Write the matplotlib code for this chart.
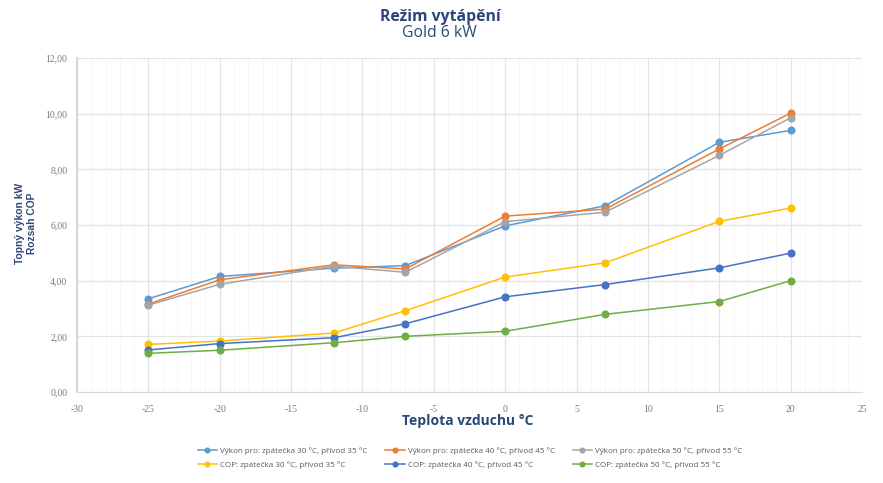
import matplotlib
matplotlib.use("Agg")
import matplotlib.pyplot as plt
from matplotlib.ticker import FuncFormatter, MultipleLocator

temps = [-25, -20, -12, -7, 0, 7, 15, 20]
vykon_30_35 = [3.35, 4.15, 4.45, 4.54, 5.97, 6.69, 8.97, 9.40]
vykon_40_45 = [3.16, 4.03, 4.57, 4.42, 6.32, 6.57, 8.73, 10.02]
vykon_50_55 = [3.12, 3.87, 4.52, 4.30, 6.12, 6.46, 8.50, 9.85]
cop_30_35 = [1.71, 1.83, 2.12, 2.92, 4.13, 4.64, 6.13, 6.61]
cop_40_45 = [1.51, 1.74, 1.95, 2.45, 3.42, 3.86, 4.46, 4.99]
cop_50_55 = [1.39, 1.50, 1.77, 2.00, 2.18, 2.79, 3.25, 4.00]

labels = [
    "Výkon pro: zpátečka 30 °C, přívod 35 °C",
    "Výkon pro: zpátečka 40 °C, přívod 45 °C",
    "Výkon pro: zpátečka 50 °C, přívod 55 °C",
    "COP: zpátečka 30 °C, přívod 35 °C",
    "COP: zpátečka 40 °C, přívod 45 °C",
    "COP: zpátečka 50 °C, přívod 55 °C",
]
series = [vykon_30_35, vykon_40_45, vykon_50_55, cop_30_35, cop_40_45, cop_50_55]
colors = ["#5B9BD5", "#ED7D31", "#A5A5A5", "#FFC000", "#4472C4", "#70AD47"]

title_color = "#2B4778"
plt.rcParams['font.family'] = ['Open Sans', 'DejaVu Sans']

fig = plt.figure(figsize=(8.83, 4.83), dpi=100)
W, H = 883, 483
left, right, top, bottom = 77, 862, 58, 392
ax = fig.add_axes([left / W, 1 - bottom / H, (right - left) / W, (bottom - top) / H])

handles = []
for s, c, lab in zip(series, colors, labels):
    h, = ax.plot(temps, s, color=c, lw=1.1, marker="o", ms=4.8, label=lab, zorder=3)
    handles.append(h)

ax.set_xlim(-30, 25)
ax.set_ylim(0, 12)
ax.xaxis.set_major_locator(MultipleLocator(5))
ax.xaxis.set_minor_locator(MultipleLocator(1))
ax.yaxis.set_major_locator(MultipleLocator(2))
ax.yaxis.set_major_formatter(FuncFormatter(lambda v, p: f"{v:.2f}".replace(".", ",")))
ax.xaxis.set_major_formatter(FuncFormatter(lambda v, p: f"{int(round(v))}"))

ax.grid(True, which="major", color="#E3E3E3", lw=0.9, zorder=0)
ax.grid(True, which="minor", axis="x", color="#F6F6F6", lw=0.6, zorder=0)
ax.tick_params(which="both", length=0, labelsize=7, labelcolor="#7A7A7A")
ax.tick_params(axis="x", pad=9)
ax.tick_params(axis="y", pad=7)
for sp in ["top", "right"]:
    ax.spines[sp].set_visible(False)
ax.spines["bottom"].set_color("#D9D9D9")
ax.spines["left"].set_color("#C9D3E0")
ax.spines["left"].set_linewidth(1.2)
for t in ax.get_yticklabels() + ax.get_xticklabels():
    t.set_family(["Liberation Serif", "DejaVu Serif"])

fig.text(440 / W, 1 - 17 / H, "Režim vytápění", ha="center", va="center",
         fontsize=11.3, fontweight="bold", color=title_color)
fig.text(439 / W, 1 - 33 / H, "Gold 6 kW", ha="center", va="center",
         fontsize=11.3, color=title_color)
fig.text(26 / W, 1 - 223 / H, "Topný výkon kW\nRozsah COP", ha="center", va="center",
         rotation=90, fontsize=7.4, fontweight="bold", color=title_color, linespacing=1.15,
         family=["Liberation Sans", "DejaVu Sans"])
fig.text(468 / W, 1 - 421 / H, "Teplota vzduchu °C", ha="center", va="center",
         fontsize=10, fontweight="bold", color=title_color)

order = [0, 3, 1, 4, 2, 5]
leg = fig.legend(handles=[handles[i] for i in order], labels=[labels[i] for i in order],
                 loc="center", bbox_to_anchor=(470 / W, 1 - 458 / H),
                 ncol=3, frameon=False, fontsize=5.8, labelcolor="#595959",
                 handlelength=2.4, handletextpad=0.4, columnspacing=2.2,
                 markerscale=0.7, labelspacing=0.8)

fig.savefig("out.png", dpi=100, facecolor="white")
